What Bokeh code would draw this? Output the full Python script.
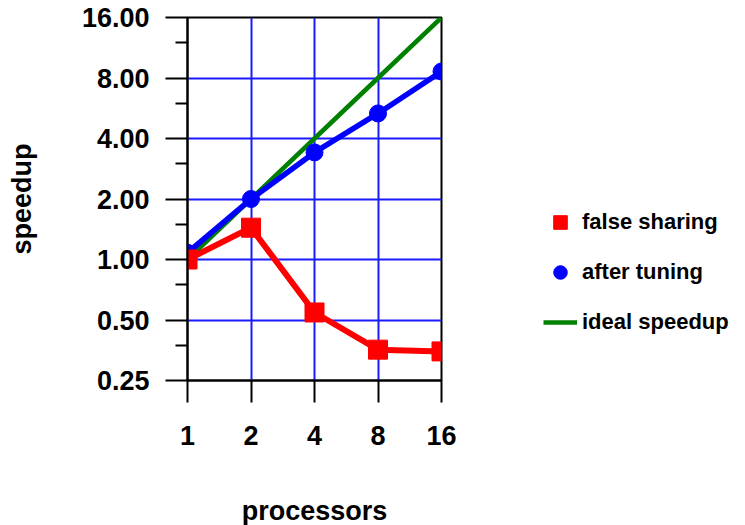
from bokeh.plotting import figure
from bokeh.models import FixedTicker, PrintfTickFormatter, Legend, LegendItem, ColumnDataSource
from bokeh.embed import file_html
from bokeh.resources import INLINE

# ---- data ----
processors = [1, 2, 4, 8, 16]
false_sharing = [1.0, 1.44, 0.545, 0.356, 0.349]
after_tuning = [1.08, 2.0, 3.41, 5.33, 8.62]
ideal_speedup = [1, 2, 4, 8, 16]

y_ticks = [0.25, 0.5, 1, 2, 4, 8, 16]
y_minor_ticks = [0.375, 0.75, 1.5, 3, 6, 12]
y_grid_ticks = [0.5, 1, 2, 4, 8]
x_ticks = [1, 2, 4, 8, 16]
x_grid_ticks = [2, 4, 8]

FONT = "Liberation Sans"

src = ColumnDataSource(dict(x=processors, fs=false_sharing, at=after_tuning, ideal=ideal_speedup))

p = figure(frame_width=254, frame_height=363, x_axis_type="log", y_axis_type="log",
           x_range=(1, 16), y_range=(0.25, 16),
           output_backend="svg", toolbar_location=None,
           min_border_left=187, min_border_right=304, min_border_top=17, min_border_bottom=145)

p.outline_line_color = "black"
p.outline_line_width = 2
p.background_fill_color = "white"
p.border_fill_color = "white"

# grids
p.xgrid.ticker = FixedTicker(ticks=x_grid_ticks)
p.ygrid.ticker = FixedTicker(ticks=y_grid_ticks)
for g in (p.xgrid, p.ygrid):
    g.grid_line_color = "#1a1aff"
    g.grid_line_width = 2

# axes
xa = p.xaxis[0]
ya = p.yaxis[0]
xa.ticker = FixedTicker(ticks=x_ticks, minor_ticks=[])
ya.ticker = FixedTicker(ticks=y_ticks, minor_ticks=y_minor_ticks)
xa.formatter = PrintfTickFormatter(format="%d")
ya.formatter = PrintfTickFormatter(format="%.2f")
for ax in (xa, ya):
    ax.axis_line_color = "black"
    ax.axis_line_width = 2
    ax.major_tick_line_color = "black"
    ax.major_tick_line_width = 2
    ax.major_tick_in = 0
    ax.major_tick_out = 22
    ax.minor_tick_line_color = "black"
    ax.minor_tick_line_width = 2
    ax.minor_tick_in = 0
    ax.minor_tick_out = 12
    ax.major_label_text_font = FONT
    ax.major_label_text_font_style = "bold"
    ax.major_label_text_font_size = "27px"
    ax.major_label_text_color = "black"
    ax.axis_label_text_font = FONT
    ax.axis_label_text_font_style = "bold"
    ax.axis_label_text_font_size = "27px"
    ax.axis_label_text_color = "black"

xa.axis_label = "processors"
ya.axis_label = "speedup"
xa.major_label_standoff = 23
ya.major_label_standoff = 16
xa.axis_label_standoff = 48
ya.axis_label_standoff = 42

# series
green = p.line("x", "ideal", source=src, line_color="#008000", line_width=4.5)
p.line("x", "at", source=src, line_color="#0000ff", line_width=5.5)
blue_m = p.scatter("x", "at", source=src, marker="circle", size=17,
                   fill_color="#0000ff", line_color="#0000ff")
p.line("x", "fs", source=src, line_color="#ff0000", line_width=6)
red_m = p.scatter("x", "fs", source=src, marker="square", size=19,
                  fill_color="#ff0000", line_color="#ff0000")

legend = Legend(items=[
    LegendItem(label="false sharing", renderers=[red_m]),
    LegendItem(label="after tuning", renderers=[blue_m]),
    LegendItem(label="ideal speedup", renderers=[green]),
], location=(102, 38))
legend.background_fill_alpha = 0
legend.border_line_alpha = 0
legend.padding = 0
legend.margin = 0
legend.glyph_width = 34
legend.glyph_height = 40
legend.spacing = 10
legend.label_standoff = 5
legend.label_text_font = FONT
legend.label_text_font_style = "bold"
legend.label_text_font_size = "22px"
legend.label_text_color = "black"
p.add_layout(legend, "right")

open("out.html", "w").write(file_html(p, INLINE))
